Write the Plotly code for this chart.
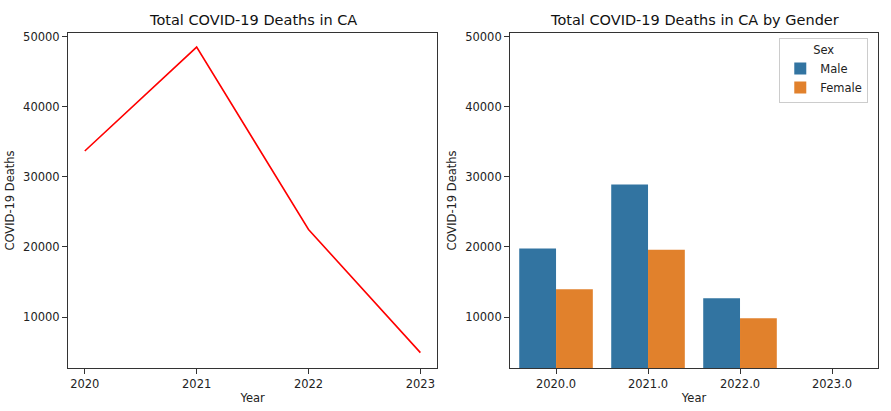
import plotly.graph_objects as go

years = [2020, 2021, 2022, 2023]
total_deaths = [33680, 48500, 22480, 4920]
year_labels = ["2020.0", "2021.0", "2022.0", "2023.0"]
male_deaths = [19760, 28890, 12670, 2650]
female_deaths = [13950, 19610, 9810, 2270]
y_ticks = [10000, 20000, 30000, 40000, 50000]
y_range = [2725, 50510]

W, H = 891, 411
ml, mr, mt, mb = 68, 12.7, 32.7, 43.3
pw = W - ml - mr

def fx(px):
    return (px - ml) / pw

fig = go.Figure()
fig.add_trace(go.Scatter(x=years, y=total_deaths, mode="lines",
                         line=dict(color="red", width=1.6), showlegend=False,
                         xaxis="x", yaxis="y"))
fig.add_trace(go.Bar(x=year_labels, y=male_deaths, name="Male",
                     marker=dict(color="#3274a1", line=dict(width=0)),
                     xaxis="x2", yaxis="y2"))
fig.add_trace(go.Bar(x=year_labels, y=female_deaths, name="Female",
                     marker=dict(color="#e1812c", line=dict(width=0)),
                     xaxis="x2", yaxis="y2"))

font = dict(family="DejaVu Sans", size=11.5, color="#222")
axis_common = dict(showline=True, linecolor="#333", linewidth=1, mirror=True,
                   ticks="outside", ticklen=5, tickcolor="#333", showgrid=False,
                   zeroline=False, tickfont=font, automargin=False)

fig.update_layout(
    width=W, height=H,
    margin=dict(l=ml, r=mr, t=mt, b=mb, autoexpand=False),
    paper_bgcolor="white", plot_bgcolor="white",
    font=font,
    barmode="group", bargap=0.2, bargroupgap=0,
    xaxis=dict(domain=[0, fx(437.3)], range=[2019.85, 2023.15],
               tickvals=years, tickformat="d",
               title=dict(text="Year", font=font, standoff=4), **axis_common),
    yaxis=dict(range=y_range, tickvals=y_ticks, tickformat="d",
               title=dict(text="COVID-19 Deaths", font=font, standoff=6), **axis_common),
    xaxis2=dict(domain=[fx(510.2), 1], range=[-0.5, 3.5], type="category",
                anchor="y2",
                title=dict(text="Year", font=font, standoff=4), **axis_common),
    yaxis2=dict(range=y_range, tickvals=y_ticks, tickformat="d", anchor="x2",
                title=dict(text="COVID-19 Deaths", font=font, standoff=6), **axis_common),
    legend=dict(title=dict(text="Sex", side="top center", font=font),
                x=0.988, y=0.985, xanchor="right", yanchor="top",
                bgcolor="rgba(255,255,255,0.8)", bordercolor="#ccc", borderwidth=1,
                font=font, itemsizing="constant", tracegroupgap=0),
    annotations=[
        dict(text="Total COVID-19 Deaths in CA", x=(0 + fx(437.3)) / 2, y=1,
             xref="paper", yref="paper", xanchor="center", yanchor="bottom",
             yshift=3, showarrow=False, font=dict(family="DejaVu Sans", size=14.5, color="#111")),
        dict(text="Total COVID-19 Deaths in CA by Gender", x=(fx(510.2) + 1) / 2, y=1,
             xref="paper", yref="paper", xanchor="center", yanchor="bottom",
             yshift=3, showarrow=False, font=dict(family="DejaVu Sans", size=14.5, color="#111")),
    ],
)

fig.write_html("out.html", config={"displayModeBar": False},
               post_script="document.body.style.margin='0px';")
